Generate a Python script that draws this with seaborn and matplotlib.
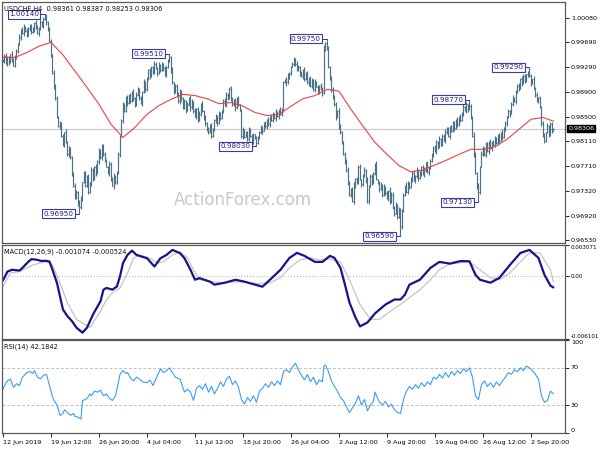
import numpy as np
import matplotlib
matplotlib.use('Agg')
import matplotlib.pyplot as plt
import matplotlib.transforms as mtransforms
import seaborn as sns

# USDCHF H4 closes, in pips (x 1e-4), one per bar
closes = [
    9940, 9948, 9935, 9945, 9938, 9950, 9942, 9932, 9945, 9955, 9966,
    9978, 9990, 9984, 9994, 9988, 9980, 9992,
    9996, 9986, 9990, 10000, 9994, 9984, 9992, 10002, 9996, 10006,
    10010, 10002, 9990,
    9972, 9950, 9920, 9900, 9880, 9850, 9835,
    9840, 9820, 9805, 9825, 9810, 9790, 9800, 9785,
    9760, 9740, 9720, 9730, 9712,
    9705, 9720, 9745,
    9760, 9740, 9755, 9730, 9745, 9765, 9750, 9770, 9760, 9780,
    9795, 9785, 9805, 9790, 9780, 9770,
    9760, 9775, 9750, 9740, 9755, 9745, 9760,
    9790, 9820, 9845, 9870, 9860, 9880, 9872, 9885,
    9875, 9890, 9880, 9870, 9885, 9895, 9880, 9872, 9890, 9905, 9895,
    9910, 9925, 9915, 9930, 9922, 9935, 9928, 9920, 9932,
    9925, 9935, 9928, 9918, 9930, 9938, 9945,
    9925, 9905, 9890, 9900, 9885, 9875, 9890,
    9880, 9865, 9875, 9860, 9870, 9880, 9865,
    9875, 9860, 9850, 9862, 9845, 9855,
    9870, 9860, 9850,
    9840, 9830, 9825, 9835, 9820, 9830,
    9845, 9850, 9840, 9855, 9848,
    9860, 9875, 9870, 9885, 9880, 9895, 9880, 9870,
    9875, 9865, 9880, 9870, 9860, 9820,
    9830, 9818, 9825, 9815, 9828, 9820, 9810, 9822, 9815, 9808, 9818,
    9825, 9832, 9828, 9840, 9835, 9845, 9838, 9850, 9845, 9855, 9848, 9858, 9852, 9860, 9855, 9862,
    9905,
    9910, 9905, 9915, 9920,
    9930, 9935, 9942, 9935, 9925, 9930, 9920,
    9915, 9925, 9910, 9918, 9905, 9912, 9900, 9908, 9895, 9905, 9898, 9890, 9900,
    9895, 9888,
    9960, 9968, 9960,
    9930, 9910, 9895, 9880,
    9870, 9850, 9860, 9835, 9825,
    9810, 9790, 9780, 9765,
    9745, 9725, 9735, 9715,
    9740, 9750, 9745, 9770, 9750, 9742, 9755, 9765, 9748, 9715,
    9740, 9755, 9745, 9760, 9775, 9750,
    9745, 9735, 9740, 9725, 9738, 9728, 9720, 9732, 9715, 9725, 9705,
    9695, 9710, 9690, 9700, 9675,
    9700, 9725, 9740, 9730, 9745, 9738,
    9750, 9760, 9748, 9755, 9765, 9752, 9760, 9770, 9758, 9765, 9775, 9762, 9770, 9780,
    9790, 9800, 9795, 9810, 9802, 9815, 9808, 9820, 9812, 9825,
    9830, 9820, 9835, 9828, 9840, 9832, 9845, 9838, 9850, 9845,
    9855, 9865, 9860, 9870, 9862, 9868,
    9850, 9820, 9790, 9760, 9740, 9730,
    9770, 9790, 9800, 9790, 9805, 9795, 9810, 9800,
    9810, 9805, 9815, 9808, 9820, 9812, 9825, 9818, 9830, 9840,
    9850, 9860, 9855, 9870, 9880, 9875,
    9890, 9900, 9895, 9910, 9905, 9915, 9908, 9918, 9922,
    9915,
    9905, 9910, 9895, 9885, 9875, 9880, 9865,
    9840, 9820, 9812,
    9825, 9835, 9822, 9838, 9828, 9830.6,
]

# wick lengths above / below the bar body, pips, one digit per bar
wick_up = ("3242315243 2413524132 4253142315 2431524132 3152423143 2531432415 "
           "3241532143 1423524312 4235132425 3142534231 2431523142 5234132453 "
           "1324253142 3425132435 2153421354 3241352413 4132543214 2354132425 "
           "3142352314 5213425314 2435134252 3142523415 2531432142 4213524351 "
           "3425143215 1352423154 4231542315 2143524231 3524132453 2413254312 "
           "4325143524 1432532415 3254142352 2415342314 5132425341 2341524132 "
           "3415234251")
wick_dn = ("2413524132 3152423143 2531432415 3241532143 1423524312 4235132425 "
           "3142534231 2431523142 5234132453 1324253142 3425132435 2153421354 "
           "3241352413 4132543214 2354132425 3142352314 5213425314 2435134252 "
           "3142523415 2531432142 4213524351 3425143215 1352423154 4231542315 "
           "2143524231 3524132453 2413254312 4325143524 1432532415 3254142352 "
           "2415342314 5132425341 2341524132 3415234251 3242315243 4253142315 "
           "2431524132")

# labelled swing highs / lows
swing_bar = [28, 51, 111, 169, 216, 265, 311, 317, 351]
swing_price = [1.00140, 0.96950, 0.99510, 0.98030, 0.99750, 0.96590, 0.98770, 0.97130, 0.99290]
swing_high = [True, False, True, False, True, False, True, False, True]

# red moving average, pips
ma_bar = [0, 8, 16, 24, 32, 40, 48, 56, 64, 72, 80, 88, 96, 104, 112, 120, 128, 136, 144, 152,
          160, 168, 176, 184, 192, 200, 208, 216, 224, 232, 240, 248, 256, 264, 272, 280, 288,
          296, 304, 312, 320, 328, 336, 344, 352, 360, 367]
ma_val = [9945, 9945, 9953, 9963, 9969, 9949, 9923, 9897, 9870, 9838, 9817, 9833, 9854, 9868,
          9878, 9886, 9884, 9879, 9871, 9873, 9867, 9857, 9852, 9854, 9867, 9879, 9884, 9894,
          9891, 9862, 9835, 9809, 9790, 9772, 9762, 9765, 9773, 9781, 9790, 9798, 9798, 9802,
          9814, 9830, 9846, 9849, 9843]

# MACD(12,26,9) main and signal, x 1e-4
macd_bar = [0, 3, 6, 11, 13, 17, 19, 23, 25, 29, 31, 33, 36, 38, 40, 43, 46, 49, 53, 56,
            60, 65, 67, 69, 73, 76, 78, 80, 83, 86, 89, 96, 101, 105, 109, 113, 118, 121, 125, 128,
            131, 138, 141, 148, 155, 161, 168, 173, 178, 185, 191, 196, 201, 208, 213, 218, 221, 225, 228, 231,
            235, 238, 243, 248, 255, 261, 265, 268, 271, 278, 285, 291, 298, 305, 311, 315, 318, 325, 331, 338,
            345, 351, 357, 361, 365, 367]
macd_val = [-3.9, 4.8, 6.5, 5.8, 8.4, 14.5, 16.9, 16.2, 15.2, 15.2, 14.5, 6.5, -6.4, -19.4, -32.3, -38.8, -43.6, -50.0, -54.8, -50.0,
            -37.1, -24.2, -12.9, -11.2, -12.9, -9.7, 0.0, 13.0, 21.0, 25.2, 21.0, 17.8, 9.7, 17.8, 21.0, 25.9, 22.7, 17.8, 6.5, -3.2,
            -1.6, -5.1, -8.0, -6.1, -3.2, -5.1, -8.0, -10.0, -3.2, 6.5, 18.1, 23.0, 20.1, 14.2, 14.2, 20.1, 18.1, 8.4, -8.0, -25.5,
            -40.0, -48.7, -44.9, -36.1, -27.4, -22.5, -22.5, -17.7, -8.0, -3.2, 8.4, 14.2, 12.5, 15.0, 14.8, 1.6, -3.2, -6.1, -1.3, 11.3,
            23.0, 25.9, 18.1, 1.6, -9.0, -10.74]
sig_bar = [0, 5, 11, 20, 29, 33, 38, 43, 49, 58, 65, 69, 73, 78, 83, 87, 91, 98, 103, 107,
           113, 118, 123, 127, 131, 145, 158, 171, 178, 185, 191, 198, 205, 211, 218, 225, 231, 238, 245, 251,
           258, 265, 271, 278, 285, 291, 298, 305, 311, 318, 325, 331, 338, 345, 351, 358, 365, 367]
sig_val = [-9.7, 3.3, 4.8, 11.3, 14.5, 11.3, -6.4, -25.8, -41.9, -49.7, -33.9, -22.6, -16.1, -11.2, 3.3, 17.8, 21.0, 17.8, 13.0, 14.5,
           21.0, 24.2, 17.8, 6.5, -3.2, -6.1, -5.1, -7.1, -6.1, -1.3, 8.4, 16.2, 18.1, 16.2, 17.1, 14.2, -3.2, -27.4, -41.9, -41.9,
           -34.2, -27.4, -20.6, -12.9, -3.2, 6.5, 12.3, 13.3, 14.2, 6.5, -1.3, -3.2, 3.6, 14.2, 23.0, 23.0, 6.5, -5.24]

# RSI(14)
rsi_bar = [0, 2, 3, 5, 7, 9, 11, 13, 16, 18,
           20, 21, 23, 25, 27, 29, 30, 31, 33, 34,
           36, 38, 40, 41, 43, 45, 47, 48, 50, 52,
           53, 55, 56, 58, 59, 61, 63, 65, 66, 67,
           69, 71, 73, 75, 76, 78, 80, 82, 83, 85,
           87, 89, 91, 93, 96, 98, 100, 103, 105, 107,
           109, 111, 113, 115, 118, 121, 123, 125, 127, 129,
           131, 133, 135, 137, 139, 141, 143, 145, 147, 149,
           151, 153, 155, 157, 159, 161, 163, 165, 167, 169,
           171, 173, 175, 177, 179, 181, 183, 185, 187, 189,
           191, 193, 195, 197, 199, 201, 203, 205, 207, 209,
           211, 213, 214, 215, 217, 219, 221, 223, 225, 227,
           229, 231, 233, 235, 237, 239, 241, 243, 245, 247,
           248, 251, 253, 255, 257, 259, 261, 263, 265, 267,
           269, 271, 273, 275, 277, 279, 281, 283, 285, 287,
           289, 291, 293, 295, 297, 299, 301, 303, 305, 307,
           309, 311, 313, 315, 317, 319, 321, 323, 325, 327,
           329, 331, 333, 335, 337, 339, 341, 343, 345, 347,
           349, 351, 353, 355, 357, 359, 361, 363, 365, 367]
rsi_val = [47, 54, 56, 58, 49, 53, 51, 60, 65, 66,
           64, 67, 60, 58, 62, 63, 57, 51, 39, 35,
           30, 19, 21, 25, 22, 19, 21, 18, 17, 15,
           35, 36, 37, 42, 40, 45, 44, 46, 43, 40,
           42, 37, 35, 40, 47, 63, 67, 64, 65, 59,
           56, 60, 58, 55, 54, 57, 51, 62, 69, 65,
           67, 70, 65, 60, 58, 44, 47, 44, 35, 48,
           51, 47, 53, 44, 50, 42, 48, 55, 50, 58,
           61, 52, 56, 49, 36, 31, 38, 34, 40, 33,
           45, 48, 53, 49, 55, 51, 56, 52, 66, 68,
           65, 71, 75, 68, 62, 57, 63, 55, 60, 52,
           57, 55, 72, 73, 66, 56, 50, 45, 38, 35,
           28, 22, 27, 32, 40, 30, 36, 24, 30, 34,
           44, 33, 30, 34, 28, 31, 25, 22, 21, 36,
           45, 50, 47, 52, 48, 54, 50, 55, 52, 60,
           58, 63, 59, 65, 60, 66, 62, 67, 64, 69,
           66, 70, 60, 40, 36, 52, 56, 50, 54, 49,
           55, 51, 56, 60, 65, 63, 68, 66, 70, 67,
           72, 70, 67, 63, 58, 40, 33, 35, 45, 42.18]

price_ticks = [1.00080, 0.99690, 0.99290, 0.98900, 0.98500, 0.98110, 0.97710, 0.97320, 0.96920, 0.96530]
date_bars = [0, 32, 64, 96, 128, 160, 192, 224, 256, 288, 320, 352]
date_labels = ['12 Jun 2019', '19 Jun 12:00', '26 Jun 20:00', '4 Jul 04:00', '11 Jul 12:00',
               '18 Jul 20:00', '26 Jul 04:00', '2 Aug 12:00', '9 Aug 20:00', '19 Aug 04:00',
               '26 Aug 12:00', '2 Sep 20:00']

sns.set_style('white')
plt.rcParams['font.family'] = ['DejaVu Sans']

n = len(closes)
idx = np.arange(n)
c = np.array(closes) / 1e4
o = np.r_[c[0], c[:-1]]
up = np.array([int(d) for d in wick_up.replace(' ', '')[:n]]) / 1e4
dn = np.array([int(d) for d in wick_dn.replace(' ', '')[:n]]) / 1e4
hi = np.maximum(o, c) + up
lo = np.minimum(o, c) - dn
for b, p, h in zip(swing_bar, swing_price, swing_high):
    if h:
        hi[b] = p
    else:
        lo[b] = p

fig = plt.figure(figsize=(6, 4.5), dpi=100)
fig.set_facecolor('#FFFFFF')
ax1 = fig.add_axes([0.0033, 0.4600, 0.9383, 0.5356])
ax2 = fig.add_axes([0.0033, 0.2467, 0.9383, 0.2089])
ax3 = fig.add_axes([0.0033, 0.0378, 0.9383, 0.2067])

FS = 4.6
edge = '#5a5a5a'
for ax in (ax1, ax2, ax3):
    ax.set_facecolor('#FFFFFF')
    ax.set_xlim(-0.67, 374.67)
    for s in ax.spines.values():
        s.set_color(edge)
        s.set_linewidth(0.9)
    ax.yaxis.tick_right()
    ax.tick_params(axis='y', which='major', direction='out', length=3, width=0.6,
                   pad=1.2, labelsize=FS, colors='#000000', right=True, left=False)

# price panel
bar_col = '#4b7186'
ax1.vlines(idx, lo, hi, color=bar_col, linewidth=0.85)
ax1.hlines(o, idx - 0.5, idx, color=bar_col, linewidth=0.6)
ax1.hlines(c, idx, idx + 0.5, color=bar_col, linewidth=0.6)
ax1.axhline(c[-1], color='#c8c8c8', linewidth=0.8, zorder=0)
sns.lineplot(x=ma_bar, y=np.array(ma_val) / 1e4, ax=ax1, color='#f04040', linewidth=0.8,
             estimator=None, sort=False)
ax1.set_ylim(0.964816, 1.00337)
ax1.set_yticks(price_ticks)
ax1.set_yticklabels([f'{p:.5f}' for p in price_ticks])
ax1.set_xticks([])
ax1.set_xlabel('')
ax1.set_ylabel('')

for b, p in zip(swing_bar, swing_price):
    ax1.plot([b - 4, b], [p, p], color='#3030a0', linewidth=0.7)
    ax1.text(b - 4, p, f'{p:.5f}', ha='right', va='center', fontsize=5.2, color='#20207a',
             bbox=dict(boxstyle='square,pad=0.2', fc='#FFFFFF', ec='#3a3ab0', lw=0.8))

trans = mtransforms.blended_transform_factory(ax1.transAxes, ax1.transData)
ax1.text(1.006, c[-1], f'{c[-1]:.5f}', transform=trans, ha='left', va='center', fontsize=FS,
         color='#FFFFFF', bbox=dict(boxstyle='square,pad=0.15', fc='#000000', ec='#000000'))
ax1.text(0.004, 0.985, 'USDCHF,H4  0.98361 0.98387 0.98253 0.98306', transform=ax1.transAxes,
         ha='left', va='top', fontsize=4.8, color='#101010')
ax1.text(0.428, 0.178, 'ActionForex.com', transform=ax1.transAxes, ha='center', va='center',
         fontsize=12, color='#c8c8c8', zorder=0)

# MACD panel
ax2.axhline(0, color='#b8b8b8', linewidth=0.8, linestyle=':')
sns.lineplot(x=sig_bar, y=np.array(sig_val) / 1e4, ax=ax2, color='#c4c4c4', linewidth=0.9,
             estimator=None, sort=False)
sns.lineplot(x=macd_bar, y=np.array(macd_val) / 1e4, ax=ax2, color='#14148c', linewidth=1.6,
             estimator=None, sort=False)
ax2.set_ylim(-0.006101, 0.003071)
ax2.set_yticks([0.003071, 0.0, -0.006101])
ax2.set_yticklabels(['0.003071', '0.00', '-0.006101'])
ax2.tick_params(axis='y', labelsize=4.1)
for t, va in zip(ax2.yaxis.get_major_ticks(), ['top', 'center', 'bottom']):
    t.label2.set_va(va)
ax2.set_xticks([])
ax2.set_xlabel('')
ax2.set_ylabel('')
ax2.text(0.004, 0.96, 'MACD(12,26,9) -0.001074 -0.000524', transform=ax2.transAxes,
         ha='left', va='top', fontsize=4.8, color='#101010')

# RSI panel
for lvl in (70, 30):
    ax3.axhline(lvl, color='#c0c0c0', linewidth=0.7, linestyle=(0, (3, 2)))
sns.lineplot(x=rsi_bar, y=rsi_val, ax=ax3, color='#3d9cf5', linewidth=0.8,
             estimator=None, sort=False)
ax3.set_ylim(0, 100)
ax3.set_yticks([100, 70, 30, 0])
ax3.set_yticklabels(['100', '70', '30', '0'])
for t, va in zip(ax3.yaxis.get_major_ticks(), ['top', 'center', 'center', 'bottom']):
    t.label2.set_va(va)
ax3.set_xticks(date_bars)
ax3.set_xticklabels(date_labels, ha='left')
ax3.tick_params(axis='x', direction='out', length=3, width=0.6, pad=2, labelsize=FS,
                colors='#000000', bottom=True)
ax3.set_xlabel('')
ax3.set_ylabel('')
ax3.text(0.004, 0.96, 'RSI(14) 42.1842', transform=ax3.transAxes,
         ha='left', va='top', fontsize=4.8, color='#101010')

plt.savefig('out.png', dpi=100)
plt.close(fig)
